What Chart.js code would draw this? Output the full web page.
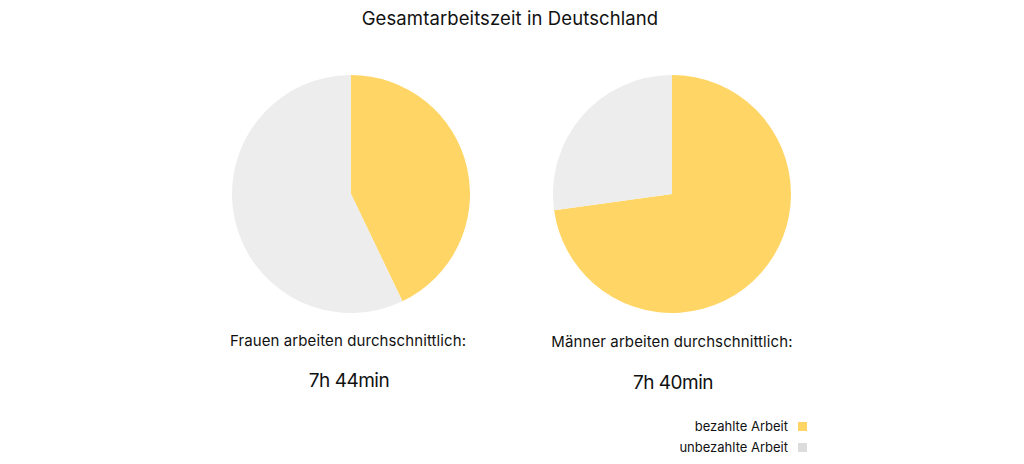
<!DOCTYPE html>
<html>
<head>
<meta charset="utf-8">
<script src="https://cdn.jsdelivr.net/npm/chart.js@4/dist/chart.umd.min.js"></script>
<style>
  html, body { margin:0; padding:0; background:#fff; }
  body { width:1024px; height:464px; position:relative; overflow:hidden; font-family: Inter, Roboto, "Noto Sans", sans-serif; color:#111; }
  .t { position:absolute; white-space:nowrap; transform:translate(-50%,-50%); }
  canvas { position:absolute; }
  .leg { position:absolute; right:217px; font-size:13px; white-space:nowrap; letter-spacing:0; display:flex; align-items:center; }
  .leg span.sw { display:inline-block; width:9px; height:9px; margin-left:10px; }
</style>
</head>
<body>
<div class="t" id="title" style="left:510px; top:18px; font-size:18.5px; letter-spacing:0.1px;"></div>
<canvas id="c1" width="238" height="238" style="left:232px; top:75px;"></canvas>
<canvas id="c2" width="238" height="238" style="left:553px; top:75px;"></canvas>
<div class="t" id="l1" style="left:348px; top:340px; font-size:15px; letter-spacing:0.1px;"></div>
<div class="t" id="l2" style="left:672px; top:341px; font-size:15px; letter-spacing:0.1px;"></div>
<div class="t" id="v1" style="left:349px; top:380px; font-size:19px; letter-spacing:-0.5px;"></div>
<div class="t" id="v2" style="left:673px; top:382px; font-size:19px; letter-spacing:-0.5px;"></div>
<div class="leg" id="lg1" style="top:418px;"></div>
<div class="leg" id="lg2" style="top:439px;"></div>
<script>
const titleText = "Gesamtarbeitszeit in Deutschland";
const categories = ["bezahlte Arbeit", "unbezahlte Arbeit"];
const groups = ["Frauen arbeiten durchschnittlich:", "Männer arbeiten durchschnittlich:"];
const totals = ["7h 44min", "7h 40min"];
const frauenMinutes = [199, 265];
const maennerMinutes = [335, 125];
const colors = ["#FFD666", "#EDEDED"];
const legendColors = ["#FFD666", "#DCDCDC"];

document.getElementById('title').textContent = titleText;
document.getElementById('l1').textContent = groups[0];
document.getElementById('l2').textContent = groups[1];
document.getElementById('v1').textContent = totals[0];
document.getElementById('v2').textContent = totals[1];
['lg1','lg2'].forEach((id,i)=>{
  const el = document.getElementById(id);
  const s = document.createElement('span'); s.textContent = categories[i];
  const sw = document.createElement('span'); sw.className='sw'; sw.style.background = legendColors[i];
  el.appendChild(s); el.appendChild(sw);
});

function makePie(id, values) {
  new Chart(document.getElementById(id), {
    type: 'pie',
    data: { labels: categories, datasets: [{ data: values, backgroundColor: colors, borderWidth: 0 }] },
    options: {
      responsive: false, animation: false, devicePixelRatio: 1,
      layout: { padding: 0 },
      plugins: { legend: { display: false }, tooltip: { enabled: false }, title: { display: false } }
    }
  });
}
makePie('c1', frauenMinutes);
makePie('c2', maennerMinutes);
</script>
</body>
</html>
